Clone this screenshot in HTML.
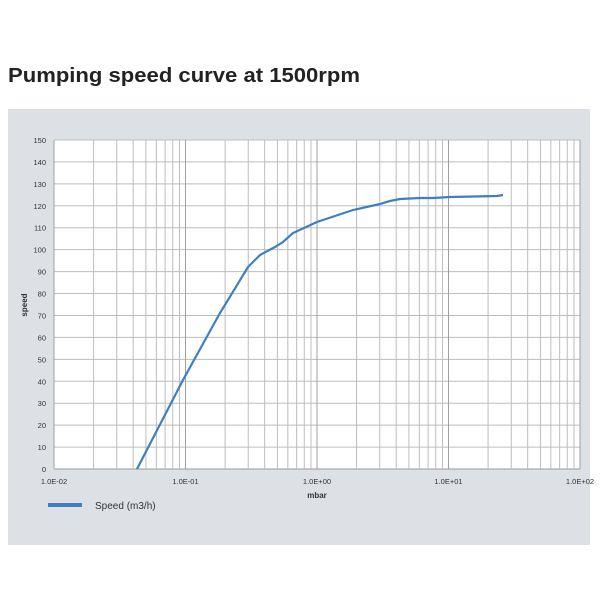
<!DOCTYPE html>
<html><head><style>
body{margin:0;background:#fff;width:600px;height:600px;overflow:hidden;font-family:"Liberation Sans",sans-serif}
</style></head><body>
<svg width="600" height="600" xmlns="http://www.w3.org/2000/svg">
<text x="8" y="82" font-size="20" font-weight="bold" textLength="352" lengthAdjust="spacingAndGlyphs" font-family="Liberation Sans,sans-serif" fill="#222">Pumping speed curve at 1500rpm</text>
<rect x="8" y="109" width="582" height="436" fill="#dde1e6"/>
<rect x="54" y="140" width="526" height="329" fill="#fff"/>
<g id="grid" stroke="#bdbdbd" stroke-width="1"></g>
<g font-size="7.5" fill="#333" text-anchor="end" id="yl"></g>
<g font-size="7.5" fill="#333" text-anchor="middle" id="xl"></g>
<text x="317" y="498" font-size="8" font-weight="bold" text-anchor="middle" fill="#333">mbar</text>
<text transform="translate(27,305) rotate(-90)" font-size="8" font-weight="bold" text-anchor="middle" fill="#333">speed</text>
<line x1="48" y1="505" x2="82" y2="505" stroke="#3f7fc1" stroke-width="4"/>
<text x="95" y="509" font-size="10" fill="#333">Speed (m3/h)</text>
<path d="M137,469 L183,380 L220,313 L248,267 L260,255 L275,247 L283,242 L293,233 L317,222 L353,210 L380,204 L390,201 L400,199 L420,198 L433,198 L450,197 L497,196 L503,195" fill="none" stroke="#3f7fc1" stroke-width="2.2"/>
</svg>
<script>
var ns="http://www.w3.org/2000/svg",g=document.getElementById('grid'),yl=document.getElementById('yl'),xl=document.getElementById('xl');
function L(a,b,c,d,col){var l=document.createElementNS(ns,'line');l.setAttribute('x1',a);l.setAttribute('y1',b);l.setAttribute('x2',c);l.setAttribute('y2',d);if(col)l.setAttribute('stroke',col);g.appendChild(l);}
for(var v=0;v<=150;v+=10){var y=469-v*329/150;L(54,y,580,y,v==0?'#999':null);var t=document.createElementNS(ns,'text');t.setAttribute('x',46);t.setAttribute('y',y+3);t.textContent=v;yl.appendChild(t);}
var labs=['1.0E-02','1.0E-01','1.0E+00','1.0E+01','1.0E+02'];
for(var d=0;d<4;d++)for(var k=1;k<10;k++){var x=54+131.5*(d+Math.log10(k));L(x,140,x,469,k==1?'#a0a0a0':null);}
L(580,140,580,469,'#a0a0a0');
for(var d=0;d<5;d++){var t=document.createElementNS(ns,'text');t.setAttribute('x',54+131.5*d);t.setAttribute('y',484);t.textContent=labs[d];xl.appendChild(t);}
</script>
</body></html>
